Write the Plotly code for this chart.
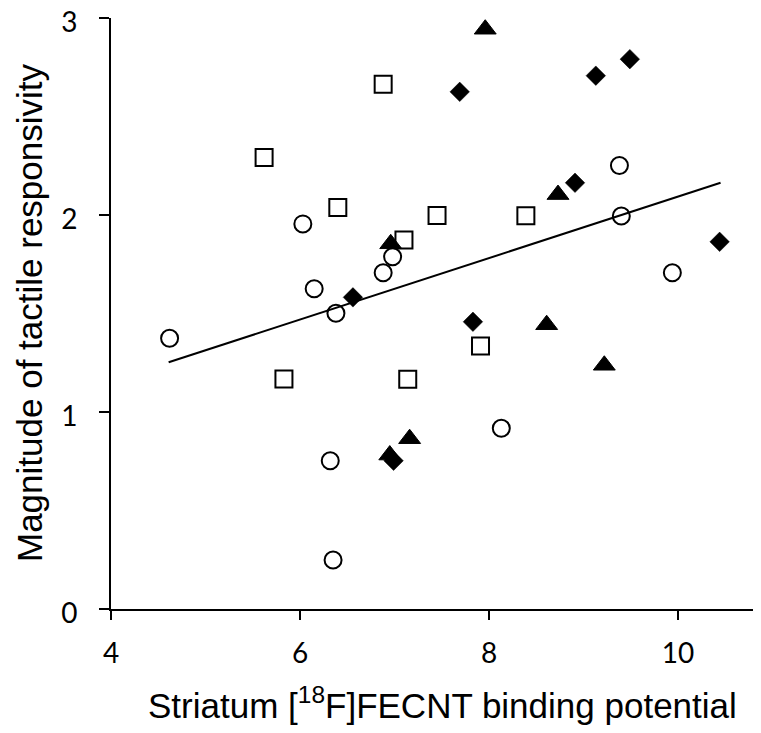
import plotly.graph_objects as go

# Open circles
circle_x = [4.62, 6.03, 6.15, 6.38, 6.88, 6.98, 9.38, 9.40, 9.94, 8.13, 6.32, 6.35]
circle_y = [1.375, 1.956, 1.627, 1.502, 1.708, 1.789, 2.253, 1.996, 1.708, 0.918, 0.753, 0.249]

# Open squares
square_x = [5.62, 6.88, 6.40, 7.10, 7.45, 8.39, 7.91, 5.83, 7.14]
square_y = [2.294, 2.666, 2.040, 1.874, 1.999, 1.997, 1.336, 1.168, 1.167]

# Filled triangles
tri_x = [7.96, 8.73, 6.96, 8.61, 9.22, 7.16, 6.95]
tri_y = [2.945, 2.105, 1.855, 1.444, 1.238, 0.865, 0.782]

# Filled diamonds
dia_x = [7.69, 9.13, 9.49, 8.91, 6.56, 7.83, 10.44, 6.99]
dia_y = [2.627, 2.709, 2.793, 2.165, 1.583, 1.459, 1.865, 0.753]

# Regression line
fit_x = [4.61, 10.45]
fit_y = [1.253, 2.165]

x_ticks = [4, 6, 8, 10]
y_ticks = [0, 1, 2, 3]

fig = go.Figure()
fig.add_trace(go.Scatter(x=fit_x, y=fit_y, mode="lines",
                         line=dict(color="black", width=2), showlegend=False,
                         cliponaxis=False))
fig.add_trace(go.Scatter(x=circle_x, y=circle_y, mode="markers", showlegend=False,
                         cliponaxis=False,
                         marker=dict(symbol="circle-open", size=17, color="black",
                                     line=dict(width=2, color="black"))))
fig.add_trace(go.Scatter(x=square_x, y=square_y, mode="markers", showlegend=False,
                         cliponaxis=False,
                         marker=dict(symbol="square-open", size=17, color="black",
                                     line=dict(width=2, color="black"))))
fig.add_trace(go.Scatter(x=tri_x, y=tri_y, mode="markers", showlegend=False,
                         cliponaxis=False,
                         marker=dict(symbol="triangle-up", size=19, color="black",
                                     line=dict(width=1, color="black"))))
fig.add_trace(go.Scatter(x=dia_x, y=dia_y, mode="markers", showlegend=False,
                         cliponaxis=False,
                         marker=dict(symbol="diamond", size=15, color="black",
                                     line=dict(width=0.5, color="black"))))

tick_font = dict(family="Lato, Carlito, sans-serif", size=28, color="black")
title_font = dict(family="Liberation Sans, Arial, sans-serif", size=35, color="black")

# The page body adds an 8px margin, so the figure is sized to fit the window.
W, H = 753, 717
L, R, T = 103, 0, 10
B = H - 601
pw, ph = W - L - R, H - T - B

fig.update_layout(
    width=W, height=H,
    margin=dict(l=L, r=R, t=T, b=B),
    paper_bgcolor="white", plot_bgcolor="white",
    xaxis=dict(range=[4, 10.878], tickvals=x_ticks, ticktext=[str(v) for v in x_ticks],
               showgrid=False, zeroline=False, showline=True, linecolor="black",
               linewidth=2, ticks="outside", ticklen=9, tickwidth=2, tickcolor="black",
               tickfont=tick_font, ticklabelstandoff=9, automargin=False,
               ticklabeloverflow="allow"),
    yaxis=dict(range=[0, 3.002], tickvals=y_ticks, ticktext=[str(v) for v in y_ticks],
               showgrid=False, zeroline=False, showline=True, linecolor="black",
               linewidth=2, ticks="outside", ticklen=10, tickwidth=2, tickcolor="black",
               tickfont=tick_font, ticklabelstandoff=16, ticklabelshift=4,
               automargin=False, ticklabeloverflow="allow"),
    annotations=[
        dict(text="Striatum [<sup>18</sup>F]FECNT binding potential",
             xref="paper", yref="paper", x=(434 - L) / pw, y=(601 - 695) / ph,
             xanchor="center", yanchor="middle", showarrow=False, font=title_font),
        dict(text="Magnitude of tactile responsivity", textangle=-90,
             xref="paper", yref="paper", x=(21 - L) / pw, y=(601 - 305) / ph,
             xanchor="center", yanchor="middle", showarrow=False, font=title_font),
    ],
)

fig.write_html("out.html")
